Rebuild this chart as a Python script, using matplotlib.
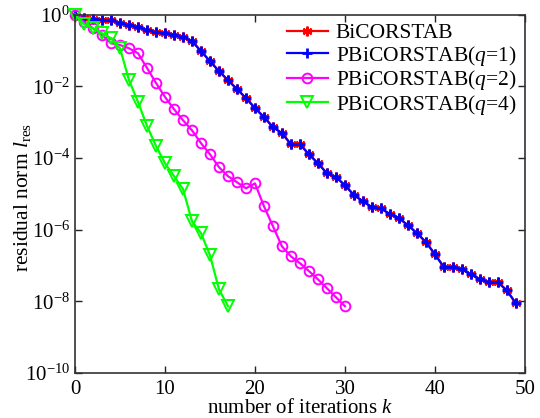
import numpy as np
import matplotlib
matplotlib.use("Agg")
import matplotlib.pyplot as plt

plt.rcParams['font.family'] = ['Liberation Serif', 'DejaVu Serif']
plt.rcParams['mathtext.fontset'] = 'custom'
plt.rcParams['mathtext.rm'] = 'Liberation Serif'
plt.rcParams['mathtext.it'] = 'Liberation Serif:italic'

# log10 of residual norm
bicg_log = [0, -0.10, -0.13, -0.15, -0.15, -0.24, -0.29, -0.35, -0.43, -0.49,
            -0.52, -0.57, -0.63, -0.74, -1.02, -1.30, -1.58, -1.83, -2.08, -2.33,
            -2.61, -2.86, -3.14, -3.31, -3.62, -3.62, -3.90, -4.15, -4.43, -4.54,
            -4.76, -5.04, -5.21, -5.38, -5.41, -5.57, -5.68, -5.88, -6.10, -6.35,
            -6.69, -7.05, -7.05, -7.11, -7.25, -7.39, -7.47, -7.47, -7.70, -8.06]
q2_log = [0, -0.20, -0.38, -0.57, -0.80, -0.85, -0.94, -1.08, -1.49, -1.91,
          -2.30, -2.64, -2.95, -3.23, -3.59, -3.90, -4.26, -4.51, -4.68, -4.85,
          -4.71, -5.35, -5.91, -6.47, -6.75, -6.94, -7.16, -7.39, -7.64, -7.89,
          -8.14]
q4_log = [0, -0.27, -0.38, -0.52, -0.66, -0.94, -1.83, -2.44, -3.11, -3.67,
          -4.15, -4.51, -4.87, -5.77, -6.10, -6.72, -7.67, -8.14]

labels = ['BiCORSTAB', 'PBiCORSTAB($q$=1)', 'PBiCORSTAB($q$=2)', 'PBiCORSTAB($q$=4)']

bicg = 10.0 ** np.array(bicg_log)
q2 = 10.0 ** np.array(q2_log)
q4 = 10.0 ** np.array(q4_log)

fig = plt.figure(figsize=(5.4, 4.18), dpi=100)
ax = fig.add_axes([0.139, 0.108, 0.833, 0.857])

asterisk = (6, 2, 0)
ax.semilogy(np.arange(len(bicg)), bicg, color='#ff0000', lw=1.6, marker=asterisk,
            ms=7, mew=1.6, label=labels[0], clip_on=False)
ax.semilogy(np.arange(len(bicg)), bicg, color='#0000ff', lw=1.6, marker='+',
            ms=7, mew=2.0, label=labels[1], clip_on=False)
ax.semilogy(np.arange(len(q2)), q2, color='#ff00ff', lw=1.6, marker='o',
            ms=7, mew=1.4, mfc='none', label=labels[2], clip_on=False)
ax.semilogy(np.arange(len(q4)), q4, color='#00ff00', lw=1.6, marker='v',
            ms=8, mew=1.4, mfc='none', label=labels[3], clip_on=False)

ax.set_xlim(0, 50)
ax.set_ylim(1e-10, 1e0)
ax.set_xticks([0, 10, 20, 30, 40, 50])
ax.set_yticks([1e-10, 1e-8, 1e-6, 1e-4, 1e-2, 1e0])
ax.minorticks_off()
ax.tick_params(direction='in', top=True, right=True, length=5, width=1,
               labelsize=15, colors='#222222', labelcolor='black')
ax.tick_params(axis='x', pad=5.5)
for s in ax.spines.values():
    s.set_color('#333333')
    s.set_linewidth(1.2)

ax.set_xlabel('number of iterations $k$', fontsize=15)
ax.set_ylabel(r'residual norm $l_{\rm res}$', fontsize=15.5)
ax.xaxis.set_label_coords(0.5, -0.073)
ax.yaxis.set_label_coords(-0.094, 0.49)

ax.legend(loc='upper right', frameon=False, fontsize=15.5, handlelength=1.9,
          borderaxespad=0, labelspacing=0.02, handletextpad=0.37,
          bbox_to_anchor=(1.0, 1.0))

fig.savefig('out.png', dpi=100)
